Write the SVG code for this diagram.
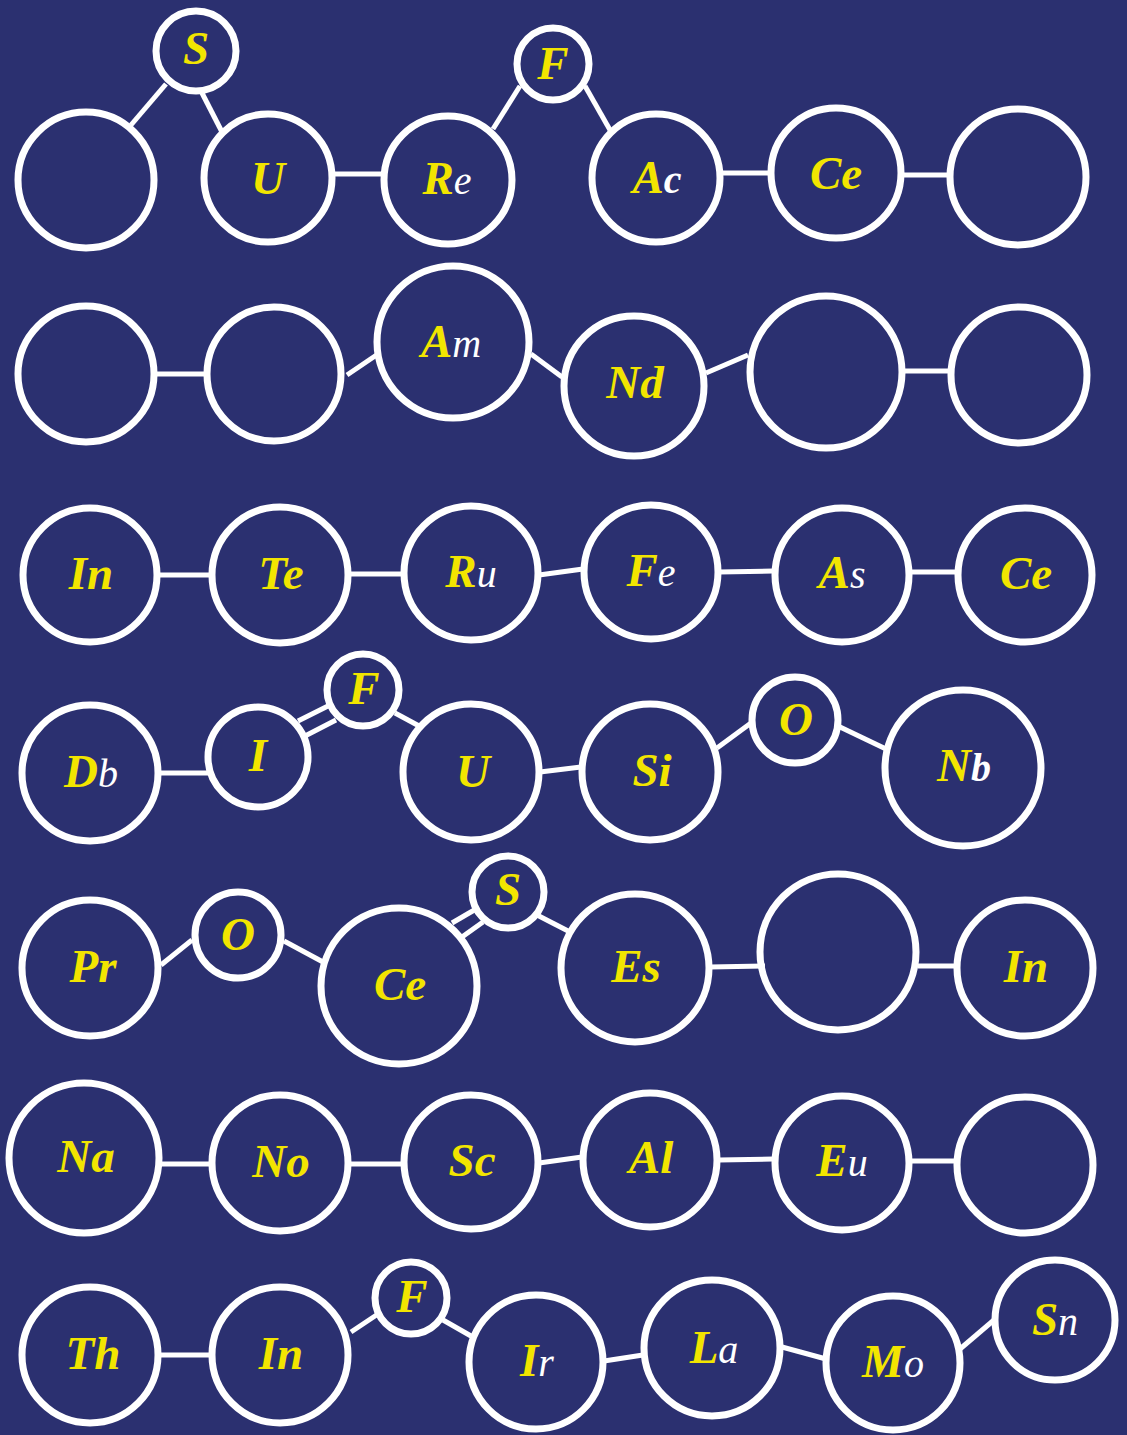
<svg xmlns="http://www.w3.org/2000/svg" width="1127" height="1435" viewBox="0 0 1127 1435">
<style>
.bg{fill:#2b3070}
.n{fill:none;stroke:#fff;stroke-width:7}
.e line{stroke:#fff;stroke-width:5;stroke-linecap:butt}
text{font-family:"Liberation Serif","DejaVu Serif",serif;font-size:47px;text-anchor:middle}
.y{fill:#f2e500;font-weight:bold;font-style:italic}
.w{fill:#ffffff;font-weight:normal;font-style:italic;font-size:40px}
.wb{fill:#ffffff;font-weight:bold;font-style:italic;font-size:40px}
</style>
<rect class="bg" x="0" y="0" width="1127" height="1435"/>
<g class="e" id="connectors">
<line x1="131" y1="125" x2="166" y2="84"/>
<line x1="202" y1="93" x2="222" y2="132"/>
<line x1="334" y1="174" x2="383" y2="174"/>
<line x1="493" y1="129" x2="520" y2="86"/>
<line x1="585" y1="86" x2="610" y2="130"/>
<line x1="723" y1="173" x2="770" y2="173"/>
<line x1="903" y1="175" x2="949" y2="175"/>
<line x1="156" y1="374" x2="206" y2="374"/>
<line x1="347" y1="375" x2="378" y2="354"/>
<line x1="531" y1="354" x2="562" y2="377"/>
<line x1="706" y1="373" x2="748" y2="355"/>
<line x1="903" y1="371" x2="951" y2="371"/>
<line x1="159" y1="575" x2="210" y2="575"/>
<line x1="349" y1="574" x2="404" y2="574"/>
<line x1="539" y1="575" x2="583" y2="569"/>
<line x1="719" y1="572" x2="773" y2="571"/>
<line x1="911" y1="572" x2="957" y2="572"/>
<line x1="159" y1="773" x2="208" y2="773"/>
<line x1="298" y1="721" x2="328" y2="706"/>
<line x1="305" y1="736" x2="336" y2="720"/>
<line x1="395" y1="713" x2="421" y2="727"/>
<line x1="540" y1="772" x2="581" y2="767"/>
<line x1="717" y1="748" x2="751" y2="723"/>
<line x1="840" y1="727" x2="886" y2="749"/>
<line x1="161" y1="965" x2="192" y2="940"/>
<line x1="284" y1="941" x2="323" y2="962"/>
<line x1="452" y1="923" x2="476" y2="909"/>
<line x1="462" y1="937" x2="483" y2="922"/>
<line x1="537" y1="915" x2="570" y2="932"/>
<line x1="710" y1="967" x2="765" y2="966"/>
<line x1="918" y1="966" x2="957" y2="966"/>
<line x1="161" y1="1164" x2="211" y2="1164"/>
<line x1="349" y1="1164" x2="403" y2="1164"/>
<line x1="539" y1="1163" x2="582" y2="1157"/>
<line x1="719" y1="1160" x2="773" y2="1159"/>
<line x1="911" y1="1161" x2="957" y2="1161"/>
<line x1="159" y1="1355" x2="211" y2="1355"/>
<line x1="351" y1="1332" x2="378" y2="1314"/>
<line x1="443" y1="1320" x2="471" y2="1336"/>
<line x1="604" y1="1361" x2="643" y2="1355"/>
<line x1="782" y1="1347" x2="826" y2="1359"/>
<line x1="960" y1="1349" x2="994" y2="1320"/>
</g>
<g id="n1"><circle class="n" cx="86" cy="180" r="68"/></g>
<g id="n2"><circle class="n" cx="196" cy="51" r="40"/><text x="196" y="64"><tspan class="y">S</tspan></text></g>
<g id="n3"><circle class="n" cx="268" cy="178" r="64"/><text x="268" y="194"><tspan class="y">U</tspan></text></g>
<g id="n4"><circle class="n" cx="448" cy="180" r="64"/><text x="447" y="194"><tspan class="y">R</tspan><tspan class="w">e</tspan></text></g>
<g id="n5"><circle class="n" cx="553" cy="64" r="36"/><text x="553" y="79"><tspan class="y">F</tspan></text></g>
<g id="n6"><circle class="n" cx="656" cy="178" r="64"/><text x="657" y="193"><tspan class="y">A</tspan><tspan class="wb">c</tspan></text></g>
<g id="n7"><circle class="n" cx="836" cy="173" r="65"/><text x="836" y="189"><tspan class="y">Ce</tspan></text></g>
<g id="n8"><circle class="n" cx="1018" cy="177" r="68"/></g>
<g id="n9"><circle class="n" cx="86" cy="374" r="68"/></g>
<g id="n10"><circle class="n" cx="274" cy="374" r="67"/></g>
<g id="n11"><circle class="n" cx="453" cy="342" r="76"/><text x="451" y="357"><tspan class="y">A</tspan><tspan class="w">m</tspan></text></g>
<g id="n12"><circle class="n" cx="634" cy="386" r="70"/><text x="635" y="398"><tspan class="y">Nd</tspan></text></g>
<g id="n13"><circle class="n" cx="826" cy="372" r="76"/></g>
<g id="n14"><circle class="n" cx="1019" cy="375" r="68"/></g>
<g id="n15"><circle class="n" cx="90" cy="575" r="67"/><text x="91" y="589"><tspan class="y">In</tspan></text></g>
<g id="n16"><circle class="n" cx="280" cy="575" r="68"/><text x="281" y="589"><tspan class="y">Te</tspan></text></g>
<g id="n17"><circle class="n" cx="471" cy="573" r="67"/><text x="471" y="587"><tspan class="y">R</tspan><tspan class="w">u</tspan></text></g>
<g id="n18"><circle class="n" cx="651" cy="572" r="67"/><text x="651" y="586"><tspan class="y">F</tspan><tspan class="w">e</tspan></text></g>
<g id="n19"><circle class="n" cx="842" cy="575" r="67"/><text x="842" y="588"><tspan class="y">A</tspan><tspan class="w">s</tspan></text></g>
<g id="n20"><circle class="n" cx="1025" cy="575" r="67"/><text x="1026" y="589"><tspan class="y">Ce</tspan></text></g>
<g id="n21"><circle class="n" cx="90" cy="773" r="68"/><text x="91" y="787"><tspan class="y">D</tspan><tspan class="w">b</tspan></text></g>
<g id="n22"><circle class="n" cx="258" cy="757" r="50"/><text x="258" y="771"><tspan class="y">I</tspan></text></g>
<g id="n23"><circle class="n" cx="363" cy="690" r="36"/><text x="364" y="704"><tspan class="y">F</tspan></text></g>
<g id="n24"><circle class="n" cx="471" cy="772" r="68"/><text x="473" y="787"><tspan class="y">U</tspan></text></g>
<g id="n25"><circle class="n" cx="650" cy="772" r="68"/><text x="652" y="786"><tspan class="y">Si</tspan></text></g>
<g id="n26"><circle class="n" cx="795" cy="720" r="43"/><text x="796" y="735"><tspan class="y">O</tspan></text></g>
<g id="n27"><circle class="n" cx="963" cy="768" r="78"/><text x="964" y="781"><tspan class="y">N</tspan><tspan class="wb">b</tspan></text></g>
<g id="n28"><circle class="n" cx="90" cy="968" r="68"/><text x="93" y="982"><tspan class="y">Pr</tspan></text></g>
<g id="n29"><circle class="n" cx="238" cy="935" r="43"/><text x="238" y="950"><tspan class="y">O</tspan></text></g>
<g id="n30"><circle class="n" cx="399" cy="986" r="78"/><text x="400" y="1000"><tspan class="y">Ce</tspan></text></g>
<g id="n31"><circle class="n" cx="508" cy="892" r="36"/><text x="508" y="905"><tspan class="y">S</tspan></text></g>
<g id="n32"><circle class="n" cx="635" cy="968" r="74"/><text x="636" y="982"><tspan class="y">Es</tspan></text></g>
<g id="n33"><circle class="n" cx="838" cy="952" r="78"/></g>
<g id="n34"><circle class="n" cx="1025" cy="968" r="68"/><text x="1026" y="982"><tspan class="y">In</tspan></text></g>
<g id="n35"><circle class="n" cx="84" cy="1158" r="75"/><text x="86" y="1172"><tspan class="y">Na</tspan></text></g>
<g id="n36"><circle class="n" cx="280" cy="1163" r="68"/><text x="281" y="1177"><tspan class="y">No</tspan></text></g>
<g id="n37"><circle class="n" cx="471" cy="1162" r="67"/><text x="472" y="1176"><tspan class="y">Sc</tspan></text></g>
<g id="n38"><circle class="n" cx="650" cy="1160" r="67"/><text x="651" y="1173"><tspan class="y">Al</tspan></text></g>
<g id="n39"><circle class="n" cx="842" cy="1163" r="67"/><text x="842" y="1176"><tspan class="y">E</tspan><tspan class="w">u</tspan></text></g>
<g id="n40"><circle class="n" cx="1025" cy="1165" r="68"/></g>
<g id="n41"><circle class="n" cx="90" cy="1355" r="68"/><text x="93" y="1369"><tspan class="y">Th</tspan></text></g>
<g id="n42"><circle class="n" cx="280" cy="1355" r="68"/><text x="281" y="1369"><tspan class="y">In</tspan></text></g>
<g id="n43"><circle class="n" cx="411" cy="1298" r="36"/><text x="412" y="1312"><tspan class="y">F</tspan></text></g>
<g id="n44"><circle class="n" cx="536" cy="1362" r="67"/><text x="537" y="1376"><tspan class="y">I</tspan><tspan class="w">r</tspan></text></g>
<g id="n45"><circle class="n" cx="712" cy="1348" r="68"/><text x="714" y="1363"><tspan class="y">L</tspan><tspan class="w">a</tspan></text></g>
<g id="n46"><circle class="n" cx="893" cy="1363" r="67"/><text x="893" y="1377"><tspan class="y">M</tspan><tspan class="w">o</tspan></text></g>
<g id="n47"><circle class="n" cx="1055" cy="1320" r="60"/><text x="1055" y="1335"><tspan class="y">S</tspan><tspan class="w">n</tspan></text></g>
</svg>
